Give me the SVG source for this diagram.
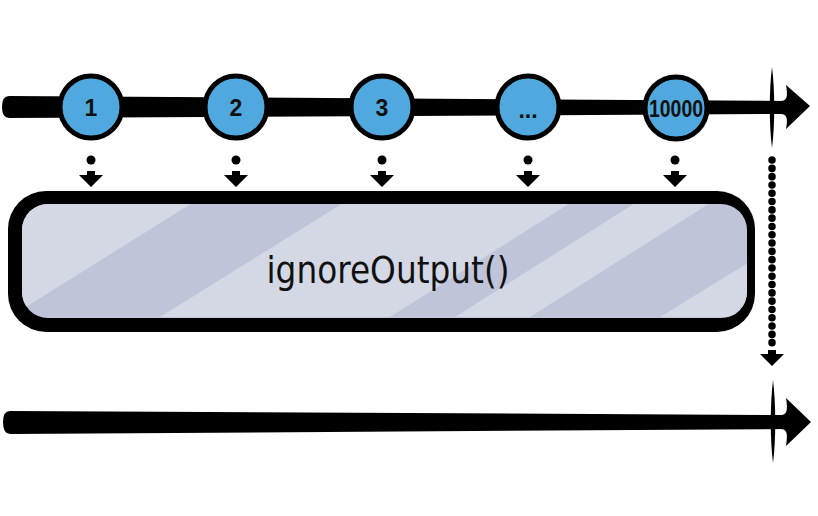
<svg xmlns="http://www.w3.org/2000/svg" width="818" height="516" viewBox="0 0 818 516">
<style>
.ink{fill:#000}
.node circle{fill:#4fa8de;stroke:#000;stroke-width:5}
.lbl{font-family:"Liberation Sans","DejaVu Sans",sans-serif;font-size:23px;font-weight:bold;fill:#111;text-anchor:middle}
.op{font-family:"DejaVu Sans","Liberation Sans",sans-serif;font-size:38px;fill:#111;text-anchor:middle}
.light{fill:#d4d8e5}
</style>
<defs>
<clipPath id="inner"><rect x="22" y="204" width="725" height="114" rx="26"/></clipPath>
<path id="smallArrow" d="M-4,171 L4,171 L4,175 L12,175 L0,187 L-12,175 L-4,175 Z"/>
</defs>
<rect width="818" height="516" fill="#fff"/>
<g id="connectors">
<!-- top timeline -->
<path class="ink" d="M9,96 L786,101 L786,114 L9,118 Q2,118 2,107 Q2,96 9,96 Z"/>
<path class="ink" d="M781,101 C787,101 788,96 786,85 L810,106 L786,129 C788,119 787,114 781,114 Z"/>
<path class="ink" d="M772,67 C775,90 775,125 772,148 C769,125 769,90 772,67 Z"/>
<!-- bottom timeline -->
<path class="ink" d="M10,411 L786,415 L786,429 L10,434 Q3,434 3,422 Q3,411 10,411 Z"/>
<path class="ink" d="M781,415 C787,415 788,410 786,398 L811,422 L786,446 C788,434 787,429 781,429 Z"/>
<path class="ink" d="M773,380 C776,405 776,440 773,463 C770,440 770,405 773,380 Z"/>
<!-- small arrows -->
<circle class="ink" cx="91" cy="160" r="4.5"/><use href="#smallArrow" x="91" class="ink"/>
<circle class="ink" cx="236" cy="160" r="4.5"/><use href="#smallArrow" x="236" class="ink"/>
<circle class="ink" cx="382" cy="160" r="4.5"/><use href="#smallArrow" x="382" class="ink"/>
<circle class="ink" cx="528" cy="160" r="4.5"/><use href="#smallArrow" x="528" class="ink"/>
<circle class="ink" cx="675" cy="160" r="4.5"/><use href="#smallArrow" x="675" class="ink"/>
<!-- dotted completion arrow -->
<line x1="772" y1="160" x2="772" y2="346" stroke="#000" stroke-width="7.5" stroke-linecap="round" stroke-dasharray="0.1 8.2"/>
<use href="#smallArrow" x="772" y="179" class="ink"/>
</g>
<g id="n1" class="node"><circle cx="91" cy="107" r="31"/><text class="lbl" x="91" y="116">1</text></g>
<g id="n2" class="node"><circle cx="236" cy="107" r="31"/><text class="lbl" x="236" y="116">2</text></g>
<g id="n3" class="node"><circle cx="382" cy="107" r="31"/><text class="lbl" x="382" y="116">3</text></g>
<g id="n4" class="node"><circle cx="528" cy="107" r="31"/><text class="lbl" x="528" y="118">...</text></g>
<g id="n5" class="node"><circle cx="676" cy="108" r="31"/><text class="lbl" x="676" y="117" textLength="54" lengthAdjust="spacingAndGlyphs">10000</text></g>
<g id="op">
<rect x="8" y="191" width="747" height="141" rx="38" fill="#000"/>
<rect x="22" y="204" width="725" height="114" rx="26" fill="#bfc4d8"/>
<g clip-path="url(#inner)">
<polygon class="light" points="0,200 197,200 10,317 0,317"/>
<polygon class="light" points="348,200 575,200 390,317 160,317"/>
<polygon class="light" points="640,200 715,200 530,317 455,317"/>
<polygon class="light" points="850,200 900,317 660,317"/>
</g>
<text class="op" x="388" y="283" textLength="243" lengthAdjust="spacingAndGlyphs">ignoreOutput()</text>
</g>
</svg>
